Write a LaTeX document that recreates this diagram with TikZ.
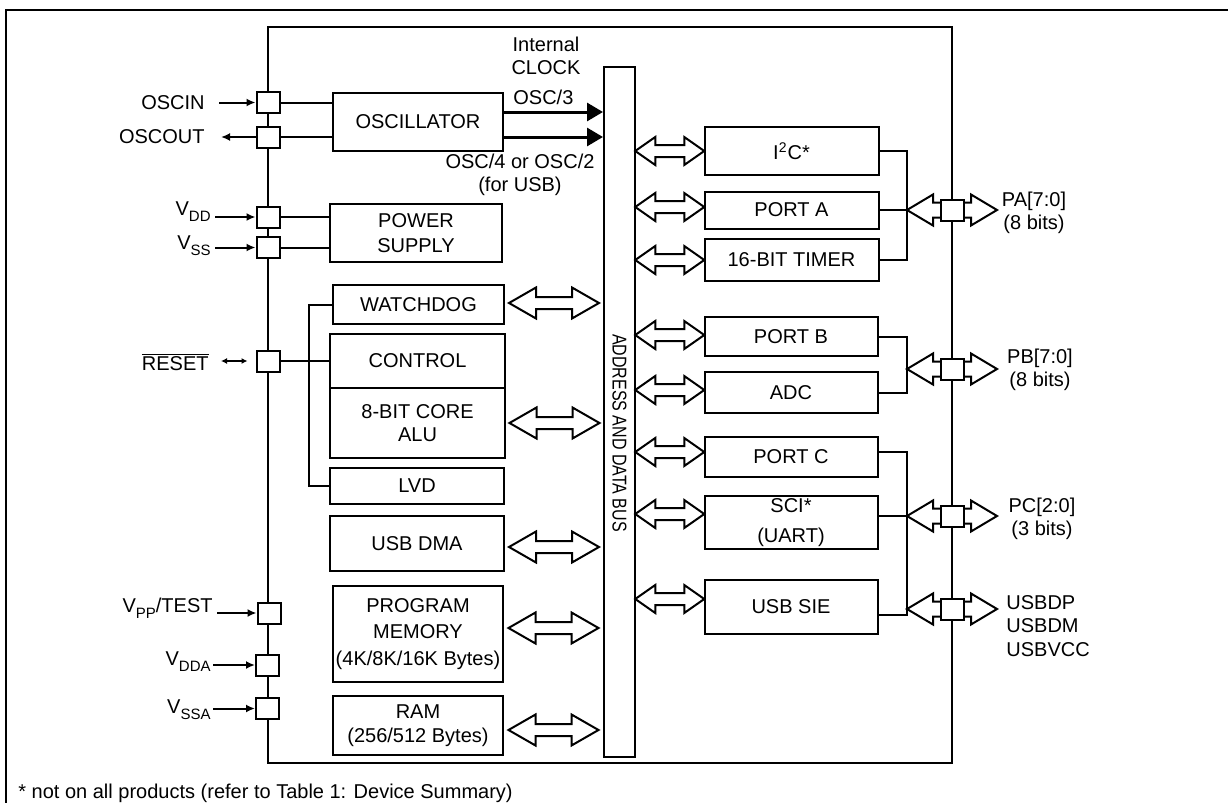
\documentclass[tikz,border=0pt]{standalone}
\usepackage{fontspec}
\setmainfont{Liberation Sans}
\usetikzlibrary{arrows.meta,calc}
\pgfdeclarelayer{bg}
\pgfsetlayers{bg,main}
\newcommand\pinsub[1]{\raisebox{-3pt}{\fontsize{7.5}{8}\selectfont #1}}
\tikzset{
  blk/.style={draw, line width=1pt, fill=white, inner sep=0pt, align=center,
    font=\fontsize{10}{11.75}\selectfont},
  sz/.style 2 args={minimum width=#1*0.5pt, minimum height=#2*0.5pt},
  pinsq/.style={draw, line width=1pt, fill=white, minimum width=11.5pt,
    minimum height=10.5pt, inner sep=0pt},
  lbl/.style={inner sep=0pt, align=center, font=\fontsize{10}{11.75}\selectfont},
  wire/.style={line width=1pt},
  pinarr/.style={line width=1pt, -{Latex[length=4.5pt,width=4pt]}},
  clkarr/.style={line width=1.5pt, -{Triangle[length=8pt,width=9pt]}},
  bigarrow/.pic={\draw[line width=1pt, fill=white, line join=miter]
    (-45,0) -- (-18,-15.5) -- (-18,-6) -- (18,-6) -- (18,-15.5) -- (45,0)
    -- (18,15.5) -- (18,6) -- (-18,6) -- (-18,15.5) -- cycle;},
  smallarrow/.pic={\draw[line width=1pt, fill=white, line join=miter]
    (-34.5,0) -- (-14.5,-14) -- (-14.5,-6) -- (14.5,-6) -- (14.5,-14) -- (34.5,0)
    -- (14.5,14) -- (14.5,6) -- (-14.5,6) -- (-14.5,14) -- cycle;},
  pinarrow/.pic={\draw[line width=1pt, fill=white, line join=miter]
    (-45,0) -- (-19,-15.5) -- (-19,-7.5) -- (19,-7.5) -- (19,-15.5) -- (45,0)
    -- (19,15.5) -- (19,7.5) -- (-19,7.5) -- (-19,15.5) -- cycle;},
}
\begin{document}
\begin{tikzpicture}[x=0.5pt,y=-0.5pt]
\useasboundingbox (0,0) rectangle (1228,803);
% outer frame
\draw[line width=1pt] (1230,10) -- (6,10) -- (6,805);
% chip
\node[draw, line width=1pt, sz={684}{736}] (chip) at (610,395) {};
% bus
\node[draw, line width=1pt, sz={31}{690}] (bus) at (619.5,412) {};
\node[rotate=-90, xscale=0.8, inner sep=0pt, font=\fontsize{10}{11}\selectfont] (buslbl) at (619.5,433) {ADDRESS AND DATA BUS};

% left blocks
\node[blk, sz={170}{58}] (osc) at (418,122) {OSCILLATOR};
\node[blk, sz={172}{58}] (psu) at (416,233) {POWER\\[1pt]SUPPLY};
\node[blk, sz={171}{39}] (wd) at (418.5,304.5) {WATCHDOG};
\node[blk, sz={175}{54}] (ctrl) at (417.5,361) {CONTROL};
\node[blk, sz={175}{70}] (alu) at (417.5,423) {8-BIT CORE\\ALU};
\node[blk, sz={174}{36}] (lvd) at (417,486) {LVD};
\node[blk, sz={174}{55}] (dma) at (417,543.5) {USB DMA};
\node[blk, sz={170}{96}] (pmem) at (418,634) {PROGRAM\\[1.5pt]MEMORY\\[1.5pt](4K/8K/16K Bytes)};
\node[blk, sz={170}{59}] (ram) at (418,725.5) {RAM\\(256/512 Bytes)};

% right blocks
\node[blk, sz={174}{48}] (i2c) at (791.5,151) {I\textsuperscript{2}C*};
\node[blk, sz={174}{37}] (porta) at (791.5,210) {PORT A};
\node[blk, sz={174}{42}] (tim) at (791.5,260) {16-BIT TIMER};
\node[blk, sz={173}{39}] (portb) at (791,336.5) {PORT B};
\node[blk, sz={173}{41}] (adc) at (791,392.5) {ADC};
\node[blk, sz={173}{40}] (portc) at (791,457) {PORT C};
\node[blk, sz={173}{53}] (sci) at (791,522.5) {SCI*\\[3pt](UART)};
\node[blk, sz={173}{54}] (sie) at (791,607) {USB SIE};

% block arrows bus <-> blocks
\begin{pgfonlayer}{bg}
\pic at ($(wd.east)!0.5!(bus.west |- wd.east)+(0,-1.5)$) {bigarrow};
\pic at ($(alu.east)!0.5!(bus.west |- alu.east)$) {bigarrow};
\pic at ($(dma.east)!0.5!(bus.west |- dma.east)+(0,3.5)$) {bigarrow};
\pic at ($(pmem.east)!0.5!(bus.west |- pmem.east)+(0,-6)$) {bigarrow};
\pic at ($(ram.east)!0.5!(bus.west |- ram.east)+(0,4.5)$) {bigarrow};
\pic at ($(i2c.west)!0.5!(bus.east |- i2c.west)$) {smallarrow};
\pic at ($(porta.west)!0.5!(bus.east |- porta.west)+(0,-3)$) {smallarrow};
\pic at ($(tim.west)!0.5!(bus.east |- tim.west)$) {smallarrow};
\pic at ($(portb.west)!0.5!(bus.east |- portb.west)+(0,-1.5)$) {smallarrow};
\pic at ($(adc.west)!0.5!(bus.east |- adc.west)+(0,-2.5)$) {smallarrow};
\pic at ($(portc.west)!0.5!(bus.east |- portc.west)+(0,-5)$) {smallarrow};
\pic at ($(sci.west)!0.5!(bus.east |- sci.west)+(0,-8.5)$) {smallarrow};
\pic at ($(sie.west)!0.5!(bus.east |- sie.west)+(0,-8)$) {smallarrow};
% right pin arrows
\pic at (952,210) {pinarrow};
\pic at (952,369) {pinarrow};
\pic at (952,516) {pinarrow};
\pic at (952,609) {pinarrow};
\end{pgfonlayer}

% right pins
\node[pinsq] (pinA) at (952,210) {};
\node[pinsq] (pinB) at (952,369) {};
\node[pinsq] (pinC) at (952,516) {};
\node[pinsq] (pinU) at (952,609) {};
\coordinate (jA) at ($(pinA.center)+(-45,0)$);
\coordinate (jB) at ($(pinB.center)+(-45,0)$);
\coordinate (jC) at ($(pinC.center)+(-45,0)$);
\coordinate (jU) at ($(pinU.center)+(-45,0)$);

% right connectors
\draw[wire] (i2c.east) -| (jA);
\draw[wire] (tim.east) -| (jA);
\draw[wire] (porta.east) -- (jA);
\draw[wire] (portb.east) -| (jB);
\draw[wire] (adc.east) -| (jB);
\coordinate (pc1) at ($(portc.east)+(0,-5)$);
\coordinate (us1) at ($(sie.east)+(0,8)$);
\draw[wire] (pc1) -| (jC |- us1) -- (us1);
\draw[wire] (jC) -- (jC -| sci.east);

% right labels
\node[lbl] (lPA) at (1034,213) {PA[7:0]\\(8 bits)};
\node[lbl] (lPB) at (1040,370) {PB[7:0]\\(8 bits)};
\node[lbl] (lPC) at (1042,519) {PC[2:0]\\(3 bits)};
\node[lbl, anchor=west, align=left] (lUSB) at (1006,626) {USBDP\\USBDM\\USBVCC};

% left pins
\node[pinsq] (pin1) at (268,102.5) {};
\node[pinsq] (pin2) at (268,137) {};
\node[pinsq] (pinVDD) at (268,217) {};
\node[pinsq] (pinVSS) at (268,247.5) {};
\node[pinsq] (pinR) at (268,361) {};
\node[pinsq] (pinVPP) at (269,613) {};
\node[pinsq] (pinVDDA) at (267.5,665) {};
\node[pinsq] (pinVSSA) at (267.5,708.5) {};

% pin to block wires
\draw[wire] (pin1.east) -- (pin1.east -| osc.west);
\draw[wire] (pin2.east) -- (pin2.east -| osc.west);
\draw[wire] (pinVDD.east) -- (pinVDD.east -| psu.west);
\draw[wire] (pinVSS.east) -- (pinVSS.east -| psu.west);
\draw[wire] (pinR.east) -- (ctrl.west);
\coordinate (tj) at (309,361);
\draw[wire] (wd.west) -| (tj);
\draw[wire] (lvd.west) -| (tj);

% oscillator outputs
\coordinate (o1) at ($(osc.east)+(0,-10)$);
\coordinate (o2) at ($(osc.east)+(0,15)$);
\draw[clkarr] (o1) -- (o1 -| bus.west);
\draw[clkarr] (o2) -- (o2 -| bus.west);
\node[lbl] (lclk) at (546,56) {Internal\\CLOCK};
\node[lbl, anchor=west] (losc3) at (513,97) {OSC/3};
\node[lbl] (losc4) at (520,175) {OSC/4 or OSC/2\\(for USB)};

% left labels
\node[lbl, anchor=east] (lOSCIN) at (205,103) {OSCIN};
\node[lbl, anchor=east] (lOSCOUT) at (205,137) {OSCOUT};
\node[lbl, anchor=base east] (lVDD) at (211,215) {V\pinsub{DD}};
\node[lbl, anchor=base east] (lVSS) at (211,249) {V\pinsub{SS}};
\node[lbl, anchor=east] (lRST) at (209,362) {$\overline{\mbox{RESET}}$};
\node[lbl, anchor=base east] (lVPP) at (213,612) {V\pinsub{PP}/TEST};
\node[lbl, anchor=base east] (lVDDA) at (211,665) {V\pinsub{DDA}};
\node[lbl, anchor=base east] (lVSSA) at (211,713) {V\pinsub{SSA}};

\draw[pinarr, shorten <=7pt] (lOSCIN.east |- pin1.west) -- (pin1.west);
\draw[pinarr, shorten >=8pt] (pin2.west) -- (lOSCOUT.east |- pin2.west);
\draw[pinarr, shorten <=2pt] (lVDD.east |- pinVDD.west) -- (pinVDD.west);
\draw[pinarr, shorten <=2pt] (lVSS.east |- pinVSS.west) -- (pinVSS.west);
\draw[line width=1pt, {Latex[length=3pt,width=3pt]}-{Latex[length=3pt,width=3pt]}, shorten <=6pt, shorten >=4pt] (lRST.east |- pinR.west) -- (pinR.west);
\draw[pinarr, shorten <=2pt] (lVPP.east |- pinVPP.west) -- (pinVPP.west);
\draw[pinarr, shorten <=1pt] (lVDDA.east |- pinVDDA.west) -- (pinVDDA.west);
\draw[pinarr, shorten <=1pt] (lVSSA.east |- pinVSSA.west) -- (pinVSSA.west);

% footnote
\node[lbl, anchor=west] (foot) at (18,793) {* not on all products (refer to Table 1: Device Summary)};
\end{tikzpicture}
\end{document}
